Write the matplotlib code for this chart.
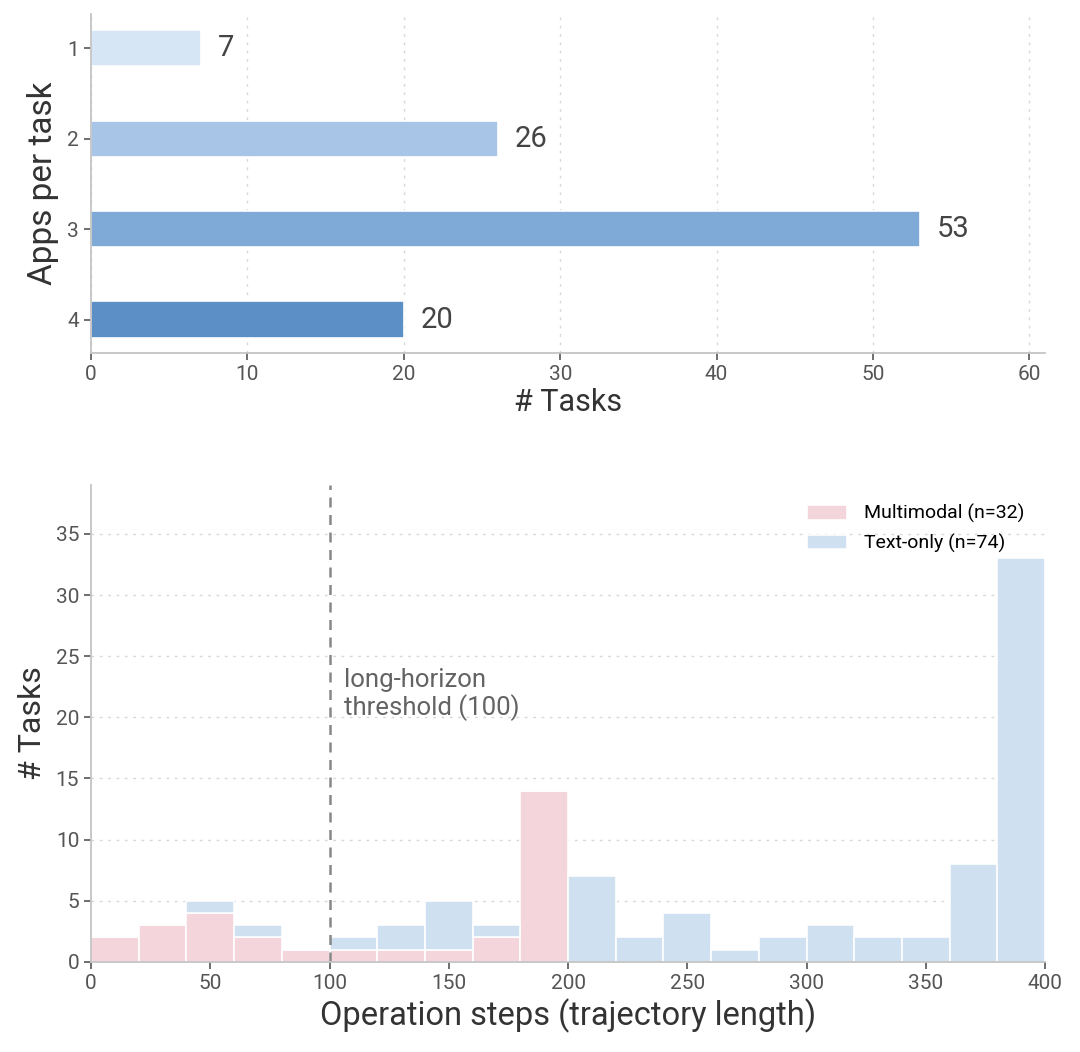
import numpy as np
import matplotlib
matplotlib.use('Agg')
import matplotlib.pyplot as plt

plt.rcParams['font.family'] = ['Roboto', 'DejaVu Sans']

# top panel: apps per task
apps = [1, 2, 3, 4]
app_tasks = [7, 26, 53, 20]
app_colors = ['#d6e6f4', '#a8c5e8', '#7fa9d6', '#5b8fc5']

# bottom panel: trajectory length histogram (bins of 20 steps)
bin_edges = np.arange(0, 420, 20)
multimodal = [2, 3, 4, 2, 1, 1, 1, 1, 2, 14, 0, 0, 0, 0, 0, 0, 0, 0, 0, 0]
text_only = [0, 0, 1, 1, 0, 1, 2, 4, 1, 0, 7, 2, 4, 1, 2, 3, 2, 2, 8, 33]
threshold = 100

pink = '#f5d5dc'
blue = '#cfe0f0'
spine_c = '#c4c4c4'
text_c = '#444444'


def style(ax):
    for s in ['top', 'right']:
        ax.spines[s].set_visible(False)
    for s in ['left', 'bottom']:
        ax.spines[s].set_color(spine_c)
        ax.spines[s].set_linewidth(1.3)
    ax.tick_params(colors='#555555', labelsize=15, length=5, width=1.2)
    ax.set_axisbelow(True)


fig = plt.figure(figsize=(10.8, 10.52), dpi=100)

ax1 = fig.add_axes([0.0843, 0.6645, 0.8833, 0.3222])
style(ax1)
ax1.barh(apps, app_tasks, height=0.4, color=app_colors, edgecolor='white', linewidth=1.2)
for y, v in zip(apps, app_tasks):
    ax1.text(v + 1.1, y, str(v), va='center', ha='left', fontsize=21, color=text_c)
ax1.set_xlim(0, 61)
ax1.set_ylim(4.37, 0.62)
ax1.set_yticks(apps)
ax1.set_xticks(range(0, 61, 10))
ax1.grid(axis='x', linestyle=(0, (2, 4)), color='#d8d8d8', linewidth=1)
ax1.set_xlabel('# Tasks', fontsize=22, color='#333333', labelpad=3)
ax1.set_ylabel('Apps per task', fontsize=24, color='#333333', labelpad=6)

ax2 = fig.add_axes([0.0843, 0.0856, 0.8833, 0.4534])
style(ax2)
centers = bin_edges[:-1]
ax2.bar(centers, multimodal, width=20, align='edge', color=pink, edgecolor='white',
        linewidth=1.2, label='Multimodal (n=32)')
ax2.bar(centers, text_only, width=20, align='edge', bottom=multimodal, color=blue,
        edgecolor='white', linewidth=1.2, label='Text-only (n=74)')
ax2.axvline(threshold, color='#888888', linestyle=(0, (4, 3)), linewidth=1.8)
ax2.text(threshold + 6, 24.0, 'long-horizon\nthreshold (100)', fontsize=18.5, color='#636363',
         va='top', ha='left', linespacing=1.1)
ax2.set_xlim(0, 400)
ax2.set_ylim(0, 39)
ax2.set_yticks(range(0, 36, 5))
ax2.set_xticks(range(0, 401, 50))
ax2.grid(axis='y', linestyle=(0, (2, 4)), color='#d8d8d8', linewidth=1)
ax2.set_xlabel('Operation steps (trajectory length)', fontsize=23.5, color='#333333', labelpad=4)
ax2.set_ylabel('# Tasks', fontsize=23, color='#333333', labelpad=6)
leg = ax2.legend(loc='upper right', frameon=False, fontsize=14, handlelength=2.05,
                 handleheight=0.8, handletextpad=0.9, labelspacing=0.55,
                 bbox_to_anchor=(0.997, 0.997))

fig.savefig('out.png', dpi=100)
